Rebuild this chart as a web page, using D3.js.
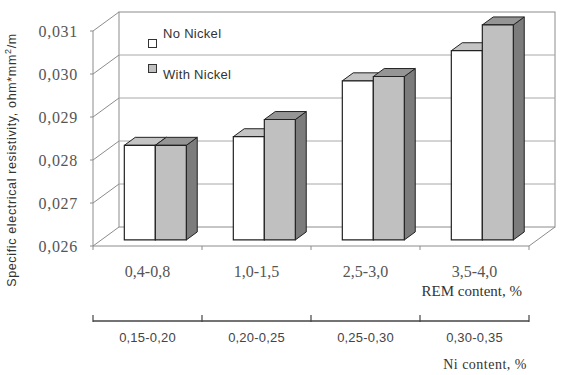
<!DOCTYPE html>
<html>
<head>
<meta charset="utf-8">
<script src="https://cdn.jsdelivr.net/npm/d3@7"></script>
<style>
  html, body { margin: 0; padding: 0; background: #fff; }
  svg { display: block; }
</style>
</head>
<body>
<svg id="chart" width="561" height="375"></svg>
<script>
/* Specific electrical resistivity vs REM / Ni content — 3D-style clustered columns */
const categories = ["0,4-0,8", "1,0-1,5", "2,5-3,0", "3,5-4,0"];
const niRanges = ["0,15-0,20", "0,20-0,25", "0,25-0,30", "0,30-0,35"];
const seriesNames = ["No Nickel", "With Nickel"];
const noNickel = [0.0282, 0.0284, 0.0297, 0.0304];
const withNickel = [0.0282, 0.0288, 0.0298, 0.0310];
const yTicks = [0.026, 0.027, 0.028, 0.029, 0.030, 0.031];
const yTickLabels = ["0,026", "0,027", "0,028", "0,029", "0,030", "0,031"];

(function () {
    const svg = d3.select("#chart");

    const FILL = { "No Nickel": "#ffffff", "With Nickel": "#c0c0c0" };
    const TOP = { "No Nickel": "#c4c4c4", "With Nickel": "#959595" };
    const SIDE = { "No Nickel": "#8a8a8a", "With Nickel": "#7c7c7c" };

    // back-plane scales; depth offset projects toward the viewer
    const x = d3.scaleBand().domain(categories).range([119, 555]);
    const xs = d3.scaleBand().domain(seriesNames).range([23, 85]);
    const y = d3.scaleLinear().domain([0.026, 0.031]).range([227, 12]);
    const DX = 26, DY = 19;
    const P = (px, py, d) => [px - DX * d, py + DY * d];
    const D_FRONT = 0.68, D_BACK = 0.26;

    const g = svg.append("g");
    const wall = "#8c8c8c";

    // back wall + gridlines
    g.append("rect").attr("x", x.range()[0]).attr("y", y(0.031))
        .attr("width", x.range()[1] - x.range()[0]).attr("height", y(0.026) - y(0.031))
        .attr("fill", "none").attr("stroke", wall);
    g.selectAll("line.grid").data(yTicks.slice(1, -1)).join("line").attr("class", "grid")
        .attr("x1", x.range()[0]).attr("x2", x.range()[1])
        .attr("y1", d => y(d)).attr("y2", d => y(d))
        .attr("stroke", "#a8a8a8");

    // left wall
    const lf0 = P(x.range()[0], y(0.026), 1), lf1 = P(x.range()[0], y(0.031), 1);
    g.append("line").attr("x1", lf0[0]).attr("y1", lf0[1]).attr("x2", lf1[0]).attr("y2", lf1[1])
        .attr("stroke", wall);
    g.selectAll("line.diag").data(yTicks).join("line").attr("class", "diag")
        .attr("x1", x.range()[0]).attr("y1", d => y(d))
        .attr("x2", d => P(x.range()[0], y(d), 1)[0]).attr("y2", d => P(x.range()[0], y(d), 1)[1])
        .attr("stroke", wall);
    g.selectAll("line.ytick").data(yTicks).join("line").attr("class", "ytick")
        .attr("x1", d => P(x.range()[0], y(d), 1)[0] - 3).attr("x2", d => P(x.range()[0], y(d), 1)[0])
        .attr("y1", d => P(x.range()[0], y(d), 1)[1]).attr("y2", d => P(x.range()[0], y(d), 1)[1])
        .attr("stroke", wall);

    // floor
    const fr0 = P(x.range()[1], y(0.026), 1);
    g.append("line").attr("x1", lf0[0]).attr("y1", lf0[1]).attr("x2", fr0[0]).attr("y2", fr0[1])
        .attr("stroke", wall);
    g.append("line").attr("x1", x.range()[1]).attr("y1", y(0.026)).attr("x2", fr0[0]).attr("y2", fr0[1])
        .attr("stroke", wall);
    const bounds = categories.map(c => x(c)).concat([x.range()[1]]);
    const frontX = d => P(d, y(0.026), 1)[0];
    g.selectAll("line.xtick").data(bounds).join("line").attr("class", "xtick")
        .attr("x1", frontX).attr("x2", frontX)
        .attr("y1", fr0[1]).attr("y2", fr0[1] + 4)
        .attr("stroke", wall);

    // y tick labels
    g.selectAll("text.ylbl").data(yTicks).join("text").attr("class", "ylbl")
        .attr("x", 78).attr("y", d => P(0, y(d), 1)[1]).attr("dy", "0.35em")
        .attr("text-anchor", "end")
        .attr("font-family", "Liberation Serif, serif").attr("font-size", 16)
        .attr("letter-spacing", 0.7).attr("fill", "#555")
        .text((d, i) => yTickLabels[i]);

    // bars
    const rows = [];
    categories.forEach((c, i) => {
        rows.push({ cat: c, s: "No Nickel", v: noNickel[i] });
        rows.push({ cat: c, s: "With Nickel", v: withNickel[i] });
    });
    const pts = a => a.map(p => p.join(",")).join(" ");
    rows.forEach(r => {
        const x0 = x(r.cat) + xs(r.s), x1 = x0 + xs.bandwidth();
        const yt = y(r.v), yb = y(0.026);
        const fTL = P(x0, yt, D_FRONT), fTR = P(x1, yt, D_FRONT), fBR = P(x1, yb, D_FRONT), fBL = P(x0, yb, D_FRONT);
        const bTL = P(x0, yt, D_BACK), bTR = P(x1, yt, D_BACK), bBR = P(x1, yb, D_BACK);
        const bar = g.append("g");
        bar.append("polygon").attr("points", pts([fTR, bTR, bBR, fBR]))
            .attr("fill", SIDE[r.s]).attr("stroke", "#222").attr("stroke-width", 1);
        bar.append("polygon").attr("points", pts([fTL, bTL, bTR, fTR]))
            .attr("fill", TOP[r.s]).attr("stroke", "#222").attr("stroke-width", 1);
        bar.append("polygon").attr("points", pts([fTL, fTR, fBR, fBL]))
            .attr("fill", FILL[r.s]).attr("stroke", "#222").attr("stroke-width", 1.2);
    });

    // legend
    const lg = svg.append("g");
    seriesNames.forEach((s, i) => {
        lg.append("rect").attr("x", 148.5).attr("y", 39.5 + i * 25).attr("width", 8).attr("height", 8)
            .attr("fill", FILL[s]).attr("stroke", "#333");
        lg.append("text").attr("x", 163).attr("y", 38 + i * 41)
            .attr("font-family", "Liberation Sans, Arial, sans-serif").attr("font-size", 13)
            .attr("letter-spacing", 0.3).attr("fill", "#333").text(s);
    });

    // category row (REM), centred under the front floor edge
    const catX = c => frontX(x(c) + x.bandwidth() / 2);
    svg.selectAll("text.cat").data(categories).join("text").attr("class", "cat")
        .attr("x", catX).attr("y", 277)
        .attr("text-anchor", "middle")
        .attr("font-family", "Liberation Serif, serif").attr("font-size", 16)
        .attr("fill", "#555").text(d => d);
    svg.append("text").attr("x", 522).attr("y", 296).attr("text-anchor", "end")
        .attr("font-family", "Liberation Serif, serif").attr("font-size", 15)
        .attr("fill", "#333").text("REM content, %");

    // Ni row with its own axis line
    const nx = d3.scaleBand().domain(niRanges).range([frontX(x.range()[0]), frontX(x.range()[1])]);
    svg.append("line").attr("x1", nx.range()[0]).attr("x2", nx.range()[1]).attr("y1", 321).attr("y2", 321)
        .attr("stroke", "#444").attr("stroke-width", 1.3);
    const nb = niRanges.map(d => nx(d)).concat([nx.range()[1]]);
    svg.selectAll("line.ntick").data(nb).join("line").attr("class", "ntick")
        .attr("x1", d => d).attr("x2", d => d).attr("y1", 315).attr("y2", 322)
        .attr("stroke", "#444").attr("stroke-width", 1.2);
    svg.selectAll("text.ni").data(niRanges).join("text").attr("class", "ni")
        .attr("x", d => nx(d) + nx.bandwidth() / 2).attr("y", 342)
        .attr("text-anchor", "middle")
        .attr("font-family", "Liberation Sans, Arial, sans-serif").attr("font-size", 13)
        .attr("letter-spacing", 0.2).attr("fill", "#444").text(d => d);
    svg.append("text").attr("x", 527).attr("y", 369).attr("text-anchor", "end")
        .attr("font-family", "Liberation Serif, serif").attr("font-size", 14)
        .attr("letter-spacing", 0.5).attr("fill", "#333").text("Ni content, %");

    // y title
    const yt = svg.append("text")
        .attr("transform", "translate(16,160) rotate(-90)")
        .attr("text-anchor", "middle")
        .attr("font-family", "Liberation Sans, Arial, sans-serif").attr("font-size", 12.5)
        .attr("letter-spacing", 0.65).attr("fill", "#333");
    yt.append("tspan").text("Specific electrical resistivity, ohm*mm");
    yt.append("tspan").attr("dy", -5).attr("font-size", 9).text("2");
    yt.append("tspan").attr("dy", 5).text("/m");
})();
</script>
</body>
</html>
